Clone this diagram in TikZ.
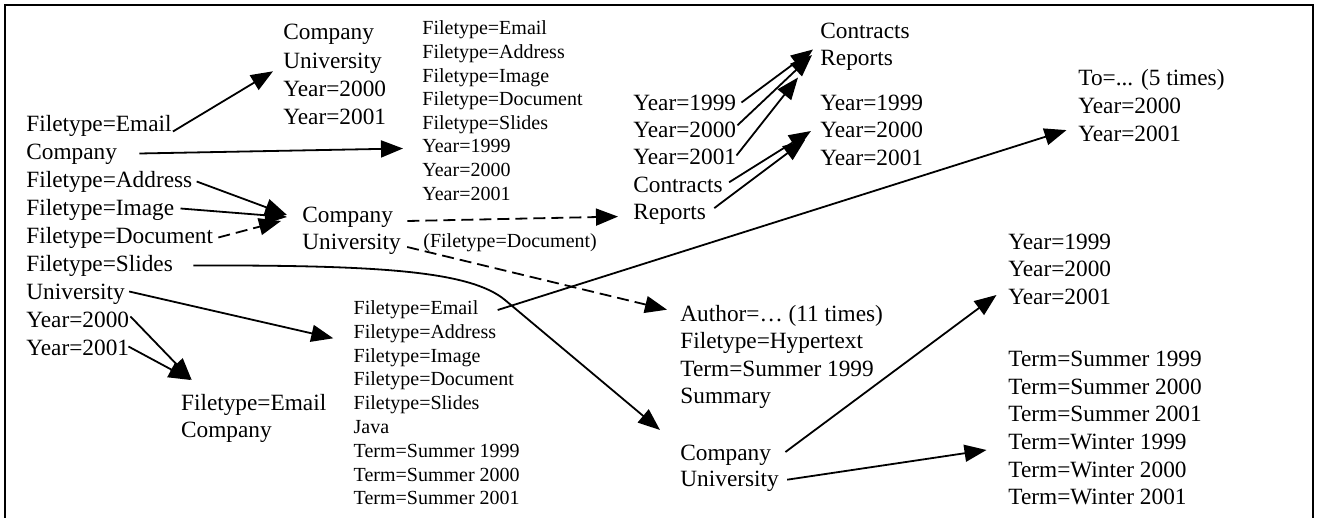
\documentclass[tikz,border=0pt]{standalone}
\usepackage{fontspec}
\setmainfont{Liberation Serif}
\usetikzlibrary{arrows.meta,calc}
\begin{document}
\begin{tikzpicture}[x=0.5pt,y=-0.5pt,
  big/.style={anchor=base west, inner sep=0pt, font=\fontsize{11.65}{14}\selectfont},
  sml/.style={anchor=base west, inner sep=0pt, font=\fontsize{10}{12}\selectfont},
  arr/.style={line width=0.9pt, -{Triangle[length=11pt,width=8.5pt]}},
  dsh/.style={arr, dash pattern=on 6pt off 3pt},
  frame/.style={line width=1.2pt}]
\useasboundingbox (0,0) rectangle (1318,518);
\draw[frame] (5,518) -- (5,5) -- (1313,5) -- (1313,518);

% left column
\node[big] (lEmail) at (26,131.5) {Filetype=Email};
\node[big] (lCompany) at (26,159.5) {Company};
\node[big] (lAddress) at (26,187.5) {Filetype=Address};
\node[big] (lImage) at (26,215.5) {Filetype=Image};
\node[big] (lDocument) at (26,243.5) {Filetype=Document};
\node[big] (lSlides) at (26,271.5) {Filetype=Slides};
\node[big] (lUniversity) at (26,299.5) {University};
\node[big] (lY2000) at (26,327.5) {Year=2000};
\node[big] (lY2001) at (26,355.5) {Year=2001};

% top box
\node[big] (tCompany) at (283,40) {Company};
\node[big] (tUniversity) at (283,68.3) {University};
\node[big] (tY2000) at (283,96.6) {Year=2000};
\node[big] (tY2001) at (283,124.9) {Year=2001};

% small top column
\node[sml] (sEmail) at (422,35) {Filetype=Email};
\node[sml] (sAddress) at (422,58.6) {Filetype=Address};
\node[sml] (sImage) at (422,82.2) {Filetype=Image};
\node[sml] (sDocument) at (422,105.8) {Filetype=Document};
\node[sml] (sSlides) at (422,129.4) {Filetype=Slides};
\node[sml] (sY1999) at (422,153) {Year=1999};
\node[sml] (sY2000) at (422,176.6) {Year=2000};
\node[sml] (sY2001) at (422,200.2) {Year=2001};

% middle company/university
\node[big] (mCompany) at (302,223) {Company};
\node[big] (mUniversity) at (302,250) {University};
\node[sml] (mFiletype) at (423,247.5) {(Filetype=Document)};

% middle column
\node[big] (mY1999) at (633,110.5) {Year=1999};
\node[big] (mY2000) at (633,137.8) {Year=2000};
\node[big] (mY2001) at (633,165) {Year=2001};
\node[big] (mContracts) at (633,192.3) {Contracts};
\node[big] (mReports) at (633,219.6) {Reports};

% top right
\node[big] (trContracts) at (820,38.5) {Contracts};
\node[big] (trReports) at (820,66) {Reports};
\node[big] (ryY1999) at (820,110.5) {Year=1999};
\node[big] (ryY2000) at (820,138) {Year=2000};
\node[big] (ryY2001) at (820,165.5) {Year=2001};

% To box
\node[big] (toTo) at (1078,86) {To=... (5 times)};
\node[big] (toY2000) at (1078,113.8) {Year=2000};
\node[big] (toY2001) at (1078,141.6) {Year=2001};

% lower right
\node[big] (lrY1999) at (1008,249.5) {Year=1999};
\node[big] (lrY2000) at (1008,277) {Year=2000};
\node[big] (lrY2001) at (1008,304.5) {Year=2001};
\node[big] (lrS1999) at (1008,367) {Term=Summer 1999};
\node[big] (lrS2000) at (1008,394.5) {Term=Summer 2000};
\node[big] (lrS2001) at (1008,422) {Term=Summer 2001};
\node[big] (lrW1999) at (1008,449.5) {Term=Winter 1999};
\node[big] (lrW2000) at (1008,477) {Term=Winter 2000};
\node[big] (lrW2001) at (1008,504.5) {Term=Winter 2001};

% Author box
\node[big] (aAuthor) at (680,321.7) {Author=… (11 times)};
\node[big] (aHyper) at (680,349) {Filetype=Hypertext};
\node[big] (aTerm) at (680,376.4) {Term=Summer 1999};
\node[big] (aSummary) at (680,403.7) {Summary};
\node[big] (xCompany) at (680,460) {Company};
\node[big] (xUniversity) at (680,486.7) {University};

% bottom box
\node[big] (qEmail) at (180.7,410) {Filetype=Email};
\node[big] (qCompany) at (180.7,437.3) {Company};

% bottom small column
\node[sml] (bsEmail) at (353.3,314.5) {Filetype=Email};
\node[sml] (bsAddress) at (353.3,338.3) {Filetype=Address};
\node[sml] (bsImage) at (353.3,362.1) {Filetype=Image};
\node[sml] (bsDocument) at (353.3,385.9) {Filetype=Document};
\node[sml] (bsSlides) at (353.3,409.7) {Filetype=Slides};
\node[sml] (bsJava) at (353.3,433.5) {Java};
\node[sml] (bsT1999) at (353.3,457.3) {Term=Summer 1999};
\node[sml] (bsT2000) at (353.3,481.1) {Term=Summer 2000};
\node[sml] (bsT2001) at (353.3,504.9) {Term=Summer 2001};

% connectors
\draw[arr] ($(lEmail.base east)+(1,0)$) -- ($(tUniversity.base west)+(-10,3)$);
\draw[arr] ($(lCompany.base east)+(22,-6)$) -- ($(sY1999.base west)+(-19,-4.5)$);
\draw[arr] ($(lAddress.base east)+(4,-6)$) -- ($(mCompany.base west)+(-15,-8)$);
\draw[arr] ($(lImage.base east)+(6,-7)$) -- ($(mCompany.base west)+(-15,-6)$);
\draw[dsh] ($(lDocument.base east)+(5,-6)$) -- ($(mCompany.base west)+(-21,-2)$);
\coordinate (bend) at (505,300);
\draw[arr] ($(lSlides.base east)+(20,-6)$) .. controls (380,265) and (470,271) .. (bend) -- ($(xCompany.base west)+(-20,-30)$);
\draw[arr] ($(lUniversity.base east)+(4,-8)$) -- ($(bsAddress.base west)+(-20,0)$);
\draw[arr] ($(lY2000.base east)+(1,-11)$) -- ($(qEmail.base west)+(11,-30)$);
\draw[arr] ($(lY2001.base east)+(-1,-9)$) -- ($(qEmail.base west)+(10,-30)$);
\draw[dsh] ($(mCompany.base east)+(14,-2)$) -- ($(mReports.base west)+(-15,-3)$);
\draw[dsh] ($(mUniversity.base east)+(6,-3)$) -- ($(aAuthor.base west)+(-13,-12)$);
\draw[arr] ($(mY1999.base east)+(5,-8)$) -- ($(trReports.base west)+(-7,-16.5)$);
\draw[arr] ($(mY2000.base east)+(1,-12.5)$) -- ($(trReports.base west)+(-8,-11)$);
\draw[arr] ($(mY2001.base east)+(0,-9.5)$) -- ($(trReports.base west)+(-22,11.5)$);
\draw[arr] ($(mContracts.base east)+(6,-10)$) -- ($(ryY2000.base west)+(-9,-7)$);
\draw[arr] ($(mReports.base east)+(8,-11.5)$) -- ($(ryY2000.base west)+(-15,2)$);
\draw[arr] ($(bsEmail.base east)+(19,-4.5)$) -- ($(toY2001.base west)+(-11.5,-11.5)$);
\draw[arr] ($(xCompany.base east)+(14,-8)$) -- ($(lrY2001.base west)+(-11.5,-9.5)$);
\draw[arr] ($(xUniversity.base east)+(8,-7)$) -- ($(lrW1999.base west)+(-21.5,0.5)$);
\end{tikzpicture}
\end{document}
